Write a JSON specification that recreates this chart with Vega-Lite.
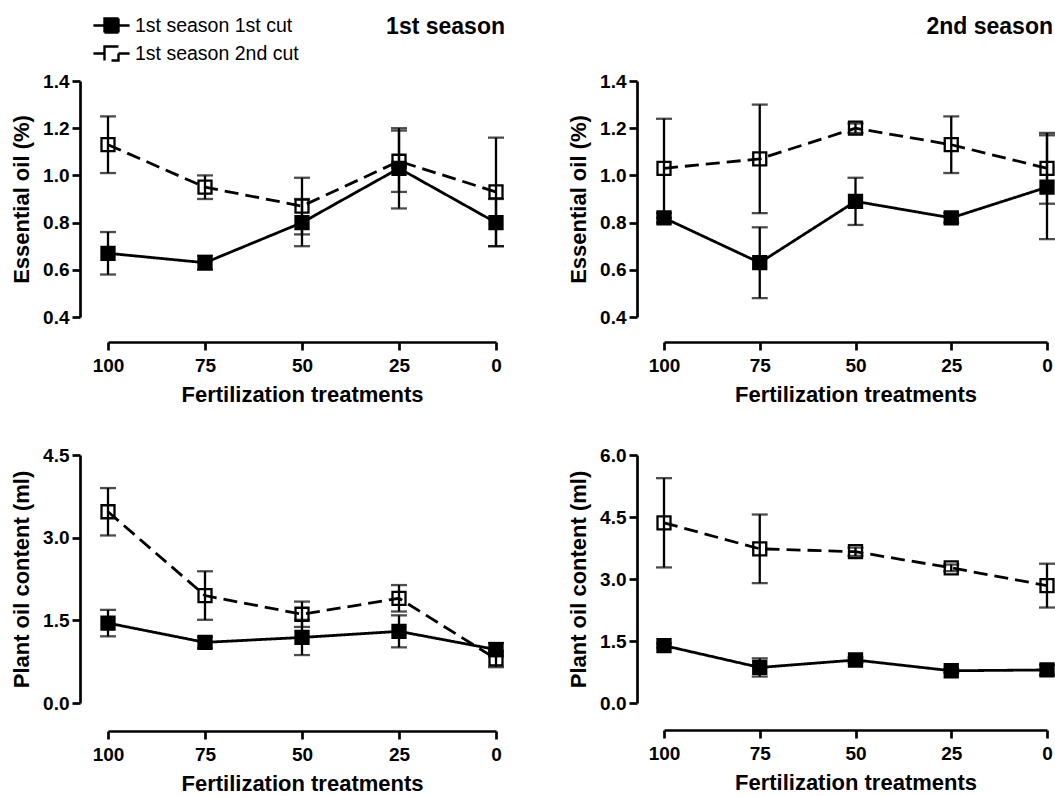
{
  "$schema": "https://vega.github.io/schema/vega-lite/v6.json",
  "background": "white",
  "padding": {"left": 10, "top": 10, "right": 0, "bottom": 0},
  "datasets": {
    "d": [
      {"panel": "EO1", "cut": "1st season 1st cut", "t": 100, "v": 0.67, "e": 0.09},
      {"panel": "EO1", "cut": "1st season 1st cut", "t": 75, "v": 0.63, "e": 0.03},
      {"panel": "EO1", "cut": "1st season 1st cut", "t": 50, "v": 0.80, "e": 0.10},
      {"panel": "EO1", "cut": "1st season 1st cut", "t": 25, "v": 1.03, "e": 0.17},
      {"panel": "EO1", "cut": "1st season 1st cut", "t": 0, "v": 0.80, "e": 0.10},
      {"panel": "EO1", "cut": "1st season 2nd cut", "t": 100, "v": 1.13, "e": 0.12},
      {"panel": "EO1", "cut": "1st season 2nd cut", "t": 75, "v": 0.95, "e": 0.05},
      {"panel": "EO1", "cut": "1st season 2nd cut", "t": 50, "v": 0.87, "e": 0.12},
      {"panel": "EO1", "cut": "1st season 2nd cut", "t": 25, "v": 1.06, "e": 0.13},
      {"panel": "EO1", "cut": "1st season 2nd cut", "t": 0, "v": 0.93, "e": 0.23},
      {"panel": "EO2", "cut": "1st season 1st cut", "t": 100, "v": 0.82, "e": 0.02},
      {"panel": "EO2", "cut": "1st season 1st cut", "t": 75, "v": 0.63, "e": 0.15},
      {"panel": "EO2", "cut": "1st season 1st cut", "t": 50, "v": 0.89, "e": 0.10},
      {"panel": "EO2", "cut": "1st season 1st cut", "t": 25, "v": 0.82, "e": 0.02},
      {"panel": "EO2", "cut": "1st season 1st cut", "t": 0, "v": 0.95, "e": 0.22},
      {"panel": "EO2", "cut": "1st season 2nd cut", "t": 100, "v": 1.03, "e": 0.21},
      {"panel": "EO2", "cut": "1st season 2nd cut", "t": 75, "v": 1.07, "e": 0.23},
      {"panel": "EO2", "cut": "1st season 2nd cut", "t": 50, "v": 1.20, "e": 0.02},
      {"panel": "EO2", "cut": "1st season 2nd cut", "t": 25, "v": 1.13, "e": 0.12},
      {"panel": "EO2", "cut": "1st season 2nd cut", "t": 0, "v": 1.03, "e": 0.15},
      {"panel": "PO1", "cut": "1st season 1st cut", "t": 100, "v": 1.45, "e": 0.24},
      {"panel": "PO1", "cut": "1st season 1st cut", "t": 75, "v": 1.10, "e": 0.10},
      {"panel": "PO1", "cut": "1st season 1st cut", "t": 50, "v": 1.19, "e": 0.32},
      {"panel": "PO1", "cut": "1st season 1st cut", "t": 25, "v": 1.30, "e": 0.29},
      {"panel": "PO1", "cut": "1st season 1st cut", "t": 0, "v": 0.97, "e": 0.12},
      {"panel": "PO1", "cut": "1st season 2nd cut", "t": 100, "v": 3.47, "e": 0.43},
      {"panel": "PO1", "cut": "1st season 2nd cut", "t": 75, "v": 1.95, "e": 0.44},
      {"panel": "PO1", "cut": "1st season 2nd cut", "t": 50, "v": 1.61, "e": 0.23},
      {"panel": "PO1", "cut": "1st season 2nd cut", "t": 25, "v": 1.90, "e": 0.24},
      {"panel": "PO1", "cut": "1st season 2nd cut", "t": 0, "v": 0.80, "e": 0.15},
      {"panel": "PO2", "cut": "1st season 1st cut", "t": 100, "v": 1.39, "e": 0.05},
      {"panel": "PO2", "cut": "1st season 1st cut", "t": 75, "v": 0.86, "e": 0.22},
      {"panel": "PO2", "cut": "1st season 1st cut", "t": 50, "v": 1.04, "e": 0.06},
      {"panel": "PO2", "cut": "1st season 1st cut", "t": 25, "v": 0.78, "e": 0.05},
      {"panel": "PO2", "cut": "1st season 1st cut", "t": 0, "v": 0.80, "e": 0.12},
      {"panel": "PO2", "cut": "1st season 2nd cut", "t": 100, "v": 4.36, "e": 1.08},
      {"panel": "PO2", "cut": "1st season 2nd cut", "t": 75, "v": 3.73, "e": 0.83},
      {"panel": "PO2", "cut": "1st season 2nd cut", "t": 50, "v": 3.66, "e": 0.10},
      {"panel": "PO2", "cut": "1st season 2nd cut", "t": 25, "v": 3.27, "e": 0.08},
      {"panel": "PO2", "cut": "1st season 2nd cut", "t": 0, "v": 2.84, "e": 0.53}
    ]
  },
  "data": {"name": "d"},
  "columns": 2,
  "spacing": {"row": 41, "column": 59},
  "concat": [
    {
      "width": 388, "height": 236,
      "title": {"text": "1st season", "anchor": "end", "frame": "group", "dx": 9, "offset": 33},
      "transform": [{"filter": "datum.panel === 'EO1'"}],
      "encoding": {
        "x": {"field": "t", "type": "quantitative", "scale": {"domain": [0, 100], "reverse": true, "nice": false, "zero": false}, "axis": {"values": [100, 75, 50, 25, 0], "format": "d", "offset": 25, "title": "Fertilization treatments"}},
        "y": {"field": "v", "type": "quantitative", "scale": {"domain": [0.4, 1.4], "nice": false, "zero": false}, "axis": {"values": [0.4, 0.6, 0.8, 1.0, 1.2, 1.4], "format": ".1f", "offset": 28, "title": "Essential oil (%)"}}
      },
      "layer": [
        {"mark": {"type": "errorbar", "color": "black", "ticks": {"size": 16, "thickness": 2.3}, "rule": {"strokeWidth": 2.3}}, "encoding": {"yError": {"field": "e"}, "detail": {"field": "cut"}}},
        {"mark": {"type": "line", "color": "black", "strokeWidth": 2.8}, "encoding": {"strokeDash": {"field": "cut", "type": "nominal", "scale": {"domain": ["1st season 1st cut", "1st season 2nd cut"], "range": [[1, 0], [14, 7]]}, "legend": {"title": null, "orient": "none", "legendX": -12, "legendY": -71, "symbolType": "M-0.5,-0.5H0.5V0.5H-0.5ZM-1.29,0H-0.5M0.5,0H1.29", "symbolSize": 784, "symbolStrokeWidth": 2.4, "symbolStrokeColor": "black", "symbolOpacity": 1, "labelFontSize": 19.5, "labelFont": "Liberation Sans", "labelColor": "black", "labelOffset": 8, "labelLimit": 400, "rowPadding": 0, "padding": 0}}}},
        {"mark": {"type": "point", "shape": "square", "size": 169, "strokeWidth": 2.3, "stroke": "black", "opacity": 1}, "encoding": {"fill": {"field": "cut", "type": "nominal", "scale": {"domain": ["1st season 1st cut", "1st season 2nd cut"], "range": ["black", "transparent"]}, "legend": {"title": null, "orient": "none", "legendX": -12, "legendY": -71, "symbolType": "M-0.5,-0.5H0.5V0.5H-0.5ZM-1.29,0H-0.5M0.5,0H1.29", "symbolSize": 784, "symbolStrokeWidth": 2.4, "symbolStrokeColor": "black", "symbolOpacity": 1, "labelFontSize": 19.5, "labelFont": "Liberation Sans", "labelColor": "black", "labelOffset": 8, "labelLimit": 400, "rowPadding": 0, "padding": 0}}}}
      ]
    },
    {
      "width": 383, "height": 236,
      "title": {"text": "2nd season", "anchor": "end", "frame": "group", "dx": 6, "offset": 33},
      "transform": [{"filter": "datum.panel === 'EO2'"}],
      "encoding": {
        "x": {"field": "t", "type": "quantitative", "scale": {"domain": [0, 100], "reverse": true, "nice": false, "zero": false}, "axis": {"values": [100, 75, 50, 25, 0], "format": "d", "offset": 25, "title": "Fertilization treatments"}},
        "y": {"field": "v", "type": "quantitative", "scale": {"domain": [0.4, 1.4], "nice": false, "zero": false}, "axis": {"values": [0.4, 0.6, 0.8, 1.0, 1.2, 1.4], "format": ".1f", "offset": 27, "title": "Essential oil (%)"}}
      },
      "layer": [
        {"mark": {"type": "errorbar", "color": "black", "ticks": {"size": 16, "thickness": 2.3}, "rule": {"strokeWidth": 2.3}}, "encoding": {"yError": {"field": "e"}, "detail": {"field": "cut"}}},
        {"mark": {"type": "line", "color": "black", "strokeWidth": 2.8}, "encoding": {"strokeDash": {"field": "cut", "type": "nominal", "scale": {"domain": ["1st season 1st cut", "1st season 2nd cut"], "range": [[1, 0], [14, 7]]}, "legend": {"title": null, "orient": "none", "legendX": -12, "legendY": -71, "symbolType": "M-0.5,-0.5H0.5V0.5H-0.5ZM-1.29,0H-0.5M0.5,0H1.29", "symbolSize": 784, "symbolStrokeWidth": 2.4, "symbolStrokeColor": "black", "symbolOpacity": 1, "labelFontSize": 19.5, "labelFont": "Liberation Sans", "labelColor": "black", "labelOffset": 8, "labelLimit": 400, "rowPadding": 0, "padding": 0}}}},
        {"mark": {"type": "point", "shape": "square", "size": 169, "strokeWidth": 2.3, "stroke": "black", "opacity": 1}, "encoding": {"fill": {"field": "cut", "type": "nominal", "scale": {"domain": ["1st season 1st cut", "1st season 2nd cut"], "range": ["black", "transparent"]}, "legend": {"title": null, "orient": "none", "legendX": -12, "legendY": -71, "symbolType": "M-0.5,-0.5H0.5V0.5H-0.5ZM-1.29,0H-0.5M0.5,0H1.29", "symbolSize": 784, "symbolStrokeWidth": 2.4, "symbolStrokeColor": "black", "symbolOpacity": 1, "labelFontSize": 19.5, "labelFont": "Liberation Sans", "labelColor": "black", "labelOffset": 8, "labelLimit": 400, "rowPadding": 0, "padding": 0}}}}
      ]
    },
    {
      "width": 388, "height": 248,
      "transform": [{"filter": "datum.panel === 'PO1'"}],
      "encoding": {
        "x": {"field": "t", "type": "quantitative", "scale": {"domain": [0, 100], "reverse": true, "nice": false, "zero": false}, "axis": {"values": [100, 75, 50, 25, 0], "format": "d", "offset": 28, "title": "Fertilization treatments"}},
        "y": {"field": "v", "type": "quantitative", "scale": {"domain": [0, 4.5], "nice": false, "zero": false}, "axis": {"values": [0, 1.5, 3.0, 4.5], "format": ".1f", "offset": 28, "title": "Plant oil content (ml)"}}
      },
      "layer": [
        {"mark": {"type": "errorbar", "color": "black", "ticks": {"size": 16, "thickness": 2.3}, "rule": {"strokeWidth": 2.3}}, "encoding": {"yError": {"field": "e"}, "detail": {"field": "cut"}}},
        {"mark": {"type": "line", "color": "black", "strokeWidth": 2.8}, "encoding": {"strokeDash": {"field": "cut", "type": "nominal", "scale": {"domain": ["1st season 1st cut", "1st season 2nd cut"], "range": [[1, 0], [14, 7]]}, "legend": {"title": null, "orient": "none", "legendX": -12, "legendY": -71, "symbolType": "M-0.5,-0.5H0.5V0.5H-0.5ZM-1.29,0H-0.5M0.5,0H1.29", "symbolSize": 784, "symbolStrokeWidth": 2.4, "symbolStrokeColor": "black", "symbolOpacity": 1, "labelFontSize": 19.5, "labelFont": "Liberation Sans", "labelColor": "black", "labelOffset": 8, "labelLimit": 400, "rowPadding": 0, "padding": 0}}}},
        {"mark": {"type": "point", "shape": "square", "size": 169, "strokeWidth": 2.3, "stroke": "black", "opacity": 1}, "encoding": {"fill": {"field": "cut", "type": "nominal", "scale": {"domain": ["1st season 1st cut", "1st season 2nd cut"], "range": ["black", "transparent"]}, "legend": {"title": null, "orient": "none", "legendX": -12, "legendY": -71, "symbolType": "M-0.5,-0.5H0.5V0.5H-0.5ZM-1.29,0H-0.5M0.5,0H1.29", "symbolSize": 784, "symbolStrokeWidth": 2.4, "symbolStrokeColor": "black", "symbolOpacity": 1, "labelFontSize": 19.5, "labelFont": "Liberation Sans", "labelColor": "black", "labelOffset": 8, "labelLimit": 400, "rowPadding": 0, "padding": 0}}}}
      ]
    },
    {
      "width": 383, "height": 248,
      "transform": [{"filter": "datum.panel === 'PO2'"}],
      "encoding": {
        "x": {"field": "t", "type": "quantitative", "scale": {"domain": [0, 100], "reverse": true, "nice": false, "zero": false}, "axis": {"values": [100, 75, 50, 25, 0], "format": "d", "offset": 27, "title": "Fertilization treatments"}},
        "y": {"field": "v", "type": "quantitative", "scale": {"domain": [0, 6], "nice": false, "zero": false}, "axis": {"values": [0, 1.5, 3.0, 4.5, 6.0], "format": ".1f", "offset": 27, "title": "Plant oil content (ml)"}}
      },
      "layer": [
        {"mark": {"type": "errorbar", "color": "black", "ticks": {"size": 16, "thickness": 2.3}, "rule": {"strokeWidth": 2.3}}, "encoding": {"yError": {"field": "e"}, "detail": {"field": "cut"}}},
        {"mark": {"type": "line", "color": "black", "strokeWidth": 2.8}, "encoding": {"strokeDash": {"field": "cut", "type": "nominal", "scale": {"domain": ["1st season 1st cut", "1st season 2nd cut"], "range": [[1, 0], [14, 7]]}, "legend": {"title": null, "orient": "none", "legendX": -12, "legendY": -71, "symbolType": "M-0.5,-0.5H0.5V0.5H-0.5ZM-1.29,0H-0.5M0.5,0H1.29", "symbolSize": 784, "symbolStrokeWidth": 2.4, "symbolStrokeColor": "black", "symbolOpacity": 1, "labelFontSize": 19.5, "labelFont": "Liberation Sans", "labelColor": "black", "labelOffset": 8, "labelLimit": 400, "rowPadding": 0, "padding": 0}}}},
        {"mark": {"type": "point", "shape": "square", "size": 169, "strokeWidth": 2.3, "stroke": "black", "opacity": 1}, "encoding": {"fill": {"field": "cut", "type": "nominal", "scale": {"domain": ["1st season 1st cut", "1st season 2nd cut"], "range": ["black", "transparent"]}, "legend": {"title": null, "orient": "none", "legendX": -12, "legendY": -71, "symbolType": "M-0.5,-0.5H0.5V0.5H-0.5ZM-1.29,0H-0.5M0.5,0H1.29", "symbolSize": 784, "symbolStrokeWidth": 2.4, "symbolStrokeColor": "black", "symbolOpacity": 1, "labelFontSize": 19.5, "labelFont": "Liberation Sans", "labelColor": "black", "labelOffset": 8, "labelLimit": 400, "rowPadding": 0, "padding": 0}}}}
      ]
    }
  ],
  "config": {
    "font": "Liberation Sans",
    "view": {"stroke": null},
    "axis": {"domainColor": "black", "domainWidth": 2.7, "tickColor": "black", "tickWidth": 2.7, "tickSize": 8, "labelFont": "Liberation Sans", "labelFontSize": 19, "labelFontWeight": "bold", "labelColor": "black", "labelFlush": false, "labelOverlap": false, "titleFont": "Liberation Sans", "titleFontSize": 22, "titleFontWeight": "bold", "titleColor": "black", "grid": false},
    "axisX": {"labelPadding": 6, "titlePadding": 9},
    "axisY": {"labelPadding": 3, "titlePadding": 9},
    "title": {"font": "Liberation Sans", "fontSize": 23, "fontWeight": "bold", "color": "black"}
  }
}
